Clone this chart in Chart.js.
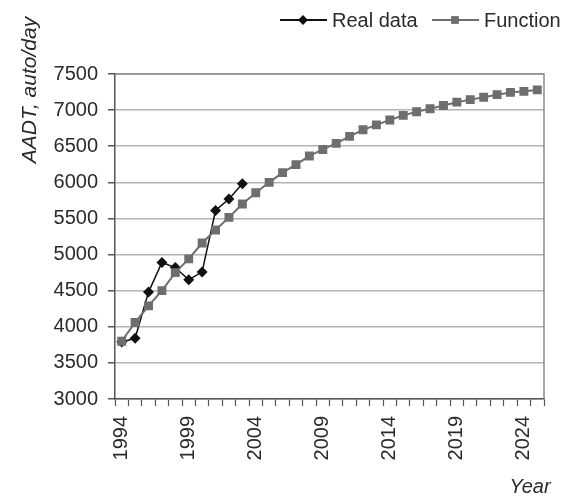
<!DOCTYPE html>
<html>
<head>
<meta charset="utf-8">
<script src="https://cdn.jsdelivr.net/npm/chart.js@4/dist/chart.umd.min.js"></script>
<style>
  body { margin: 0; background: #fff; }
  canvas { display: block; }
</style>
</head>
<body>
<canvas id="chart" width="566" height="497"></canvas>
<script>
const years = [];
for (let y = 1994; y <= 2025; y++) years.push(String(y));

// measured AADT values (1994-2003)
const realData = [3790, 3840, 4480, 4890, 4820, 4650, 4760, 5610, 5770, 5980];

// fitted function values (1994-2025)
const functionData = [3800, 4060, 4290, 4500, 4750, 4940, 5160, 5340, 5515, 5700,
    5855, 6000, 6135, 6245, 6365, 6455, 6540, 6636, 6727, 6795,
    6864, 6927, 6977, 7018, 7064, 7110, 7145, 7177, 7214, 7245, 7260, 7280];

const yTicks = [3000, 3500, 4000, 4500, 5000, 5500, 6000, 6500, 7000, 7500];

const FONT = '"Liberation Sans", Arial, sans-serif';
const TEXT = '#2a2a2a';
const REAL_COLOR = '#111111';
const FUNC_COLOR = '#6e6e6e';

// frame, axis titles and line+marker legend
const decorations = {
    id: 'decorations',
    afterDraw(chart) {
        const { ctx, chartArea } = chart;
        ctx.save();
        ctx.strokeStyle = '#8a8a8a';
        ctx.lineWidth = 1.5;
        ctx.beginPath();
        ctx.moveTo(chartArea.left, chartArea.top);
        ctx.lineTo(chartArea.right, chartArea.top);
        ctx.lineTo(chartArea.right, chartArea.bottom);
        ctx.stroke();

        ctx.fillStyle = TEXT;
        ctx.font = 'italic 21px ' + FONT;
        ctx.textAlign = 'center';
        ctx.textBaseline = 'middle';
        ctx.save();
        ctx.translate(30, 90);
        ctx.rotate(-Math.PI / 2);
        ctx.fillText('AADT, auto/day', 0, 0);
        ctx.restore();

        ctx.font = 'italic 20px ' + FONT;
        ctx.fillText('Year', 530, 487);

        // legend
        const items = [
            { label: 'Real data', color: REAL_COLOR, x: 280, style: 'rectRot', r: 5 },
            { label: 'Function', color: FUNC_COLOR, x: 432, style: 'rect', r: 5.5 }
        ];
        const ly = 20;
        ctx.font = '20px ' + FONT;
        ctx.textAlign = 'left';
        items.forEach(it => {
            ctx.strokeStyle = it.color;
            ctx.lineWidth = 2;
            ctx.beginPath();
            ctx.moveTo(it.x, ly);
            ctx.lineTo(it.x + 47, ly);
            ctx.stroke();
            ctx.fillStyle = it.color;
            Chart.helpers.drawPoint(ctx, { pointStyle: it.style, radius: it.r, borderWidth: 0 }, it.x + 23, ly);
            ctx.fillStyle = TEXT;
            ctx.fillText(it.label, it.x + 52, ly + 1);
        });
        ctx.restore();
    }
};

new Chart(document.getElementById('chart'), {
    type: 'line',
    data: {
        labels: years,
        datasets: [
            {
                label: 'Real data',
                data: realData,
                borderColor: REAL_COLOR,
                backgroundColor: REAL_COLOR,
                borderWidth: 1.5,
                pointStyle: 'rectRot',
                pointRadius: 5.5,
                pointBorderWidth: 0,
                order: 2,
                tension: 0
            },
            {
                label: 'Function',
                data: functionData,
                borderColor: FUNC_COLOR,
                backgroundColor: FUNC_COLOR,
                borderWidth: 2,
                pointStyle: 'rect',
                pointRadius: 6.3,
                pointBorderWidth: 0,
                order: 1,
                tension: 0
            }
        ]
    },
    options: {
        responsive: false,
        animation: false,
        devicePixelRatio: 1,
        layout: { padding: { top: 74, right: 22, left: 0, bottom: 0 } },
        plugins: {
            legend: { display: false },
            tooltip: { enabled: false }
        },
        scales: {
            x: {
                type: 'category',
                offset: true,
                afterFit: s => { s.height = 98; s.paddingLeft = 0; s.paddingRight = 0; },
                grid: { offset: true, drawOnChartArea: false, tickLength: 7, tickColor: '#555', tickWidth: 1.2 },
                border: { color: '#555', width: 1.5 },
                ticks: {
                    autoSkip: false,
                    minRotation: 90,
                    maxRotation: 90,
                    padding: 10,
                    color: TEXT,
                    font: { family: FONT, size: 20 },
                    callback: function (v, i) { return i % 5 === 0 ? this.getLabelForValue(v) : ''; }
                }
            },
            y: {
                min: yTicks[0],
                max: yTicks[yTicks.length - 1],
                afterFit: s => { s.width = 115; s.paddingTop = 0; s.paddingBottom = 0; },
                afterBuildTicks: s => { s.ticks = yTicks.map(v => ({ value: v })); },
                grid: { color: '#b4b4b4', lineWidth: 1.5, tickLength: 7, tickColor: '#555' },
                border: { color: '#555', width: 1.5 },
                ticks: {
                    padding: 10,
                    color: TEXT,
                    font: { family: FONT, size: 20 },
                    callback: v => String(v)
                }
            }
        }
    },
    plugins: [decorations]
});
</script>
</body>
</html>
